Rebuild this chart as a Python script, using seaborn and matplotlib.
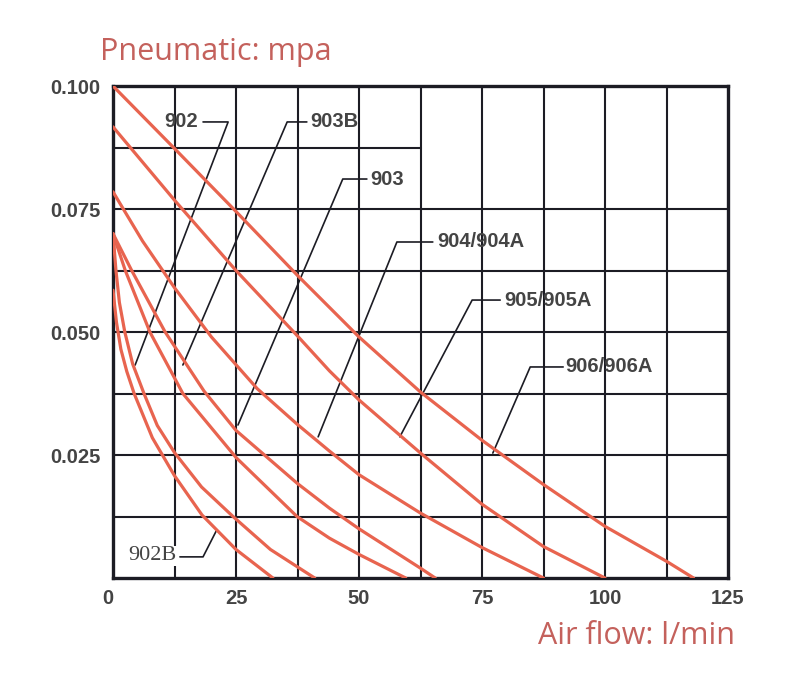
import numpy as np
import pandas as pd
import matplotlib
matplotlib.use("Agg")
import matplotlib.pyplot as plt
import seaborn as sns

# curves: air flow (l/min) vs pressure (mpa)
flow_906 = [0, 12.5, 25, 37.5, 50, 62.5, 75, 87.5, 100, 112.5, 118]
mpa_906 = [0.100, 0.0873, 0.0745, 0.0615, 0.0490, 0.0378, 0.0280, 0.0190, 0.0105, 0.0034, 0.0]

flow_905 = [0, 12.5, 25, 37.5, 44, 50, 62.5, 75, 87.5, 100]
mpa_905 = [0.0917, 0.0768, 0.0625, 0.0492, 0.0421, 0.0362, 0.0254, 0.0150, 0.0064, 0.0]

flow_904 = [0, 6, 12.5, 20, 29.3, 37.5, 44, 50, 62.5, 75, 87.5]
mpa_904 = [0.0785, 0.0685, 0.0590, 0.0490, 0.0385, 0.0312, 0.0258, 0.0210, 0.0132, 0.0062, 0.0]

flow_903 = [0, 3.8, 10.6, 18.5, 25, 37.5, 44, 50, 62.5, 65.5]
mpa_903 = [0.070, 0.0625, 0.0500, 0.0380, 0.0300, 0.0192, 0.0142, 0.0100, 0.0020, 0.0]

flow_903b = [0, 2.5, 7.5, 14.2, 25, 37.4, 44, 50, 59.5]
mpa_903b = [0.070, 0.0625, 0.0500, 0.0375, 0.0245, 0.0125, 0.0081, 0.0048, 0.0]

flow_902 = [0, 0.6, 1.3, 2.4, 4, 6.3, 9, 12.5, 18, 24.4, 32, 41]
mpa_902 = [0.070, 0.0625, 0.0560, 0.0500, 0.0435, 0.0375, 0.0310, 0.0255, 0.0185, 0.0125, 0.0058, 0.0]

flow_902b = [0, 0.7, 1.6, 2.8, 4.3, 8, 12.5, 18.1, 25, 32.5]
mpa_902b = [0.0585, 0.0520, 0.0465, 0.0420, 0.0375, 0.0285, 0.0208, 0.0128, 0.0058, 0.0]

models = ["906/906A", "905/905A", "904/904A", "903", "903B", "902", "902B"]
flows = [flow_906, flow_905, flow_904, flow_903, flow_903b, flow_902, flow_902b]
pressures = [mpa_906, mpa_905, mpa_904, mpa_903, mpa_903b, mpa_902, mpa_902b]

# leader line for each label: text anchor, then the bent line down to the curve
label_text = ["902", "903B", "903", "904/904A", "905/905A", "906/906A", "902B"]
label_xy = [(17.3, 0.0927), (40.0, 0.0927), (52.3, 0.0811), (66.0, 0.0683),
            (79.6, 0.0565), (92.0, 0.0429), (12.9, 0.0045)]
label_ha = ["right", "left", "left", "left", "left", "left", "right"]
leader_x = [[18.3, 23.4, 4.5], [39.4, 35.4, 14.2], [51.6, 46.7, 25.4], [65.0, 57.7, 41.7],
            [78.7, 73.0, 58.3], [91.5, 84.8, 77.2], [13.6, 18.3, 21.1]]
leader_y = [[0.0927, 0.0927, 0.0433], [0.0927, 0.0927, 0.0433], [0.0811, 0.0811, 0.0311],
            [0.0683, 0.0683, 0.0287], [0.0565, 0.0565, 0.0287], [0.0429, 0.0429, 0.0254],
            [0.0043, 0.0043, 0.0098]]

x_grid = [12.5, 25, 37.5, 50, 62.5, 75, 87.5, 100, 112.5]
y_grid = [0.0125, 0.025, 0.0375, 0.05, 0.0625, 0.075]
x_ticks = [0, 25, 50, 75, 100, 125]
y_ticks = [0.025, 0.050, 0.075, 0.100]
y_tick_labels = ["0.025", "0.050", "0.075", "0.100"]

df = pd.concat([pd.DataFrame({"flow": f, "mpa": p, "model": m})
                for m, f, p in zip(models, flows, pressures)], ignore_index=True)

sns.set_style("white")
plt.rcParams["font.family"] = ["Liberation Sans", "DejaVu Sans"]

red = "#e8644f"
ink = "#1c1c24"
title_col = "#c4615c"
txt_col = "#444444"

fig = plt.figure(figsize=(8, 6.79), dpi=100)
ax = fig.add_axes([0.14125, 0.1487, 0.76875, 0.7246])

for gx in x_grid:
    ax.axvline(gx, color=ink, lw=1.5, zorder=1)
for gy in y_grid:
    ax.axhline(gy, color=ink, lw=1.5, zorder=1)
# the 0.0875 line only runs across the left half
ax.axhline(0.0875, xmin=0, xmax=0.5, color=ink, lw=1.5, zorder=1)

sns.lineplot(data=df, x="flow", y="mpa", hue="model", units="model", estimator=None,
             palette=[red] * len(models), lw=2.3, legend=False, ax=ax, zorder=3)

for txt, (tx, ty), ha, lx, ly in zip(label_text, label_xy, label_ha, leader_x, leader_y):
    ax.plot(lx, ly, color=ink, lw=1.2, zorder=2)
    if txt == "902B":
        ax.text(tx, ty, txt, ha=ha, va="center", fontsize=16, color=txt_col,
                family=["Liberation Serif"], zorder=4,
                bbox=dict(facecolor="white", edgecolor="none", pad=0.5))
    else:
        ax.text(tx, ty, txt, ha=ha, va="center", fontsize=14.5, color=txt_col,
                fontweight="bold", zorder=4)

ax.set_xlim(0, 125)
ax.set_ylim(0, 0.1)
ax.set_xticks(x_ticks)
ax.set_xticklabels([str(t) for t in x_ticks], fontweight="bold")
ax.get_xticklabels()[0].set_ha("right")
ax.set_yticks(y_ticks)
ax.set_yticklabels(y_tick_labels, fontweight="bold")
ax.tick_params(length=0, labelsize=14.5, colors=txt_col)
ax.tick_params(axis="x", pad=8)
ax.tick_params(axis="y", pad=9)
ax.set_xlabel("")
ax.set_ylabel("")
for sp in ax.spines.values():
    sp.set_color(ink)
    sp.set_linewidth(2.4)
    sp.set_visible(True)

fig.text(100 / 800, 1 - 52 / 679, "Pneumatic: mpa", ha="left", va="center",
         fontsize=22, color=title_col, family=["Open Sans", "DejaVu Sans"])
fig.text(735 / 800, 1 - 636 / 679, "Air flow: l/min", ha="right", va="center",
         fontsize=22, color=title_col, family=["Open Sans", "DejaVu Sans"])

fig.savefig("out.png", dpi=100, facecolor="white")
